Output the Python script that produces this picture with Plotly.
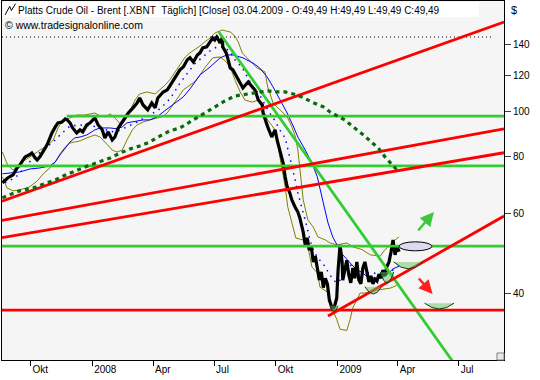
import numpy as np
import pandas as pd
import plotly.graph_objects as go

# ---------------- data ----------------
price_dates = [
    "2007-08-20", "2007-08-24", "2007-08-28", "2007-09-05", "2007-09-11",
    "2007-09-15", "2007-09-23", "2007-09-29", "2007-10-03", "2007-10-08",
    "2007-10-11", "2007-10-15", "2007-10-20", "2007-10-24", "2007-10-27",
    "2007-11-02", "2007-11-07", "2007-11-11", "2007-11-17", "2007-11-22",
    "2007-11-25", "2007-11-29", "2007-12-03", "2007-12-09", "2007-12-14",
    "2007-12-18", "2007-12-24", "2007-12-29", "2008-01-05", "2008-01-10",
    "2008-01-16", "2008-01-20", "2008-01-25", "2008-01-31", "2008-02-04",
    "2008-02-09", "2008-02-15", "2008-02-19", "2008-02-24", "2008-03-02",
    "2008-03-08", "2008-03-12", "2008-03-17", "2008-03-24", "2008-03-30",
    "2008-04-04", "2008-04-08", "2008-04-16", "2008-04-22", "2008-04-26",
    "2008-05-02", "2008-05-07", "2008-05-11", "2008-05-16", "2008-05-22",
    "2008-05-26", "2008-05-31", "2008-06-06", "2008-06-10", "2008-06-14",
    "2008-06-20", "2008-06-25", "2008-06-29", "2008-07-02", "2008-07-05",
    "2008-07-10", "2008-07-13", "2008-07-14", "2008-07-19", "2008-07-22",
    "2008-07-25", "2008-07-29", "2008-08-04", "2008-08-09", "2008-08-13",
    "2008-08-18", "2008-08-21", "2008-08-27", "2008-08-31", "2008-09-05",
    "2008-09-11", "2008-09-12", "2008-09-15", "2008-09-19", "2008-09-25",
    "2008-09-30", "2008-10-03", "2008-10-07", "2008-10-12", "2008-10-15",
    "2008-10-18", "2008-10-22", "2008-10-25", "2008-10-30", "2008-11-03",
    "2008-11-06", "2008-11-11", "2008-11-14", "2008-11-17", "2008-11-20",
    "2008-11-23", "2008-11-26", "2008-11-29", "2008-12-02", "2008-12-05",
    "2008-12-08", "2008-12-11", "2008-12-14", "2008-12-17", "2008-12-20",
    "2008-12-23", "2008-12-25", "2008-12-28", "2008-12-31", "2009-01-02",
    "2009-01-05", "2009-01-08", "2009-01-09", "2009-01-12", "2009-01-15",
    "2009-01-18", "2009-01-21", "2009-01-24", "2009-01-27", "2009-01-30",
    "2009-02-02", "2009-02-05", "2009-02-08", "2009-02-11", "2009-02-14",
    "2009-02-17", "2009-02-20", "2009-02-23", "2009-02-26", "2009-03-01",
    "2009-03-04", "2009-03-07", "2009-03-10", "2009-03-13", "2009-03-16",
    "2009-03-19", "2009-03-22", "2009-03-25", "2009-03-28", "2009-03-31",
    "2009-04-03",
]
price_close = [
    70.0, 71.0, 71.7, 72.8, 75.4,
    76.5, 79.7, 80.5, 81.3, 79.3,
    78.5, 79.7, 81.7, 83.8, 85.5,
    89.9, 92.7, 94.6, 95.0, 96.5,
    96.0, 94.6, 92.2, 89.9, 91.3,
    90.4, 93.6, 94.6, 97.0, 93.6,
    91.4, 87.7, 90.4, 86.8, 88.1,
    92.2, 95.0, 97.0, 99.4, 102.0,
    104.5, 107.2, 103.5, 101.0, 104.5,
    102.0, 107.2, 110.5, 111.6, 113.9,
    117.5, 121.0, 123.5, 125.3, 129.9,
    131.2, 128.5, 133.1, 134.5, 137.9,
    138.6, 142.1, 145.0, 143.5, 145.7,
    141.4, 145.0, 138.6, 134.5, 129.9,
    124.7, 123.5, 119.2, 115.6, 112.7,
    115.0, 116.2, 113.3, 111.6, 106.1,
    103.5, 99.4, 96.0, 92.7, 88.1,
    91.3, 86.8, 82.6, 77.3, 72.1,
    68.6, 66.5, 64.2, 61.9, 60.4,
    58.6, 54.6, 51.2, 53.0, 49.9,
    50.7, 47.0, 48.4, 45.6, 42.9,
    44.7, 41.3, 43.3, 42.1, 38.8,
    37.3, 36.9, 37.7, 39.2, 45.1,
    51.2, 47.0, 42.9, 45.1, 47.4,
    44.0, 42.3, 45.6, 43.3, 47.0,
    42.9, 42.1, 45.6, 47.0, 44.9,
    42.5, 43.8, 42.1, 43.1, 42.7,
    44.2, 43.3, 45.1, 43.8, 46.0,
    47.0, 49.4, 52.5, 48.7, 50.9,
    49.49,
]

# long moving average (blue, solid)
ma_long_dates = [
    "2007-08-20", "2007-08-31", "2007-09-15", "2007-09-30", "2007-10-15", "2007-10-30", "2007-11-07", "2007-11-14", "2007-11-22", "2007-11-29",
    "2007-12-06", "2007-12-14", "2007-12-24", "2008-01-05", "2008-01-13", "2008-01-28", "2008-02-07", "2008-02-15", "2008-02-22", "2008-03-02",
    "2008-03-17", "2008-03-27", "2008-04-07", "2008-04-16", "2008-04-26", "2008-05-07", "2008-05-16", "2008-05-26", "2008-06-10", "2008-06-25",
    "2008-07-10", "2008-07-20", "2008-07-29", "2008-08-13", "2008-08-28", "2008-09-07", "2008-09-18", "2008-09-27", "2008-10-07", "2008-10-18",
    "2008-10-27", "2008-11-03", "2008-11-14", "2008-11-24", "2008-12-02", "2008-12-06", "2008-12-11", "2008-12-18", "2008-12-25", "2009-01-02",
    "2009-01-09", "2009-01-17", "2009-01-27", "2009-02-07", "2009-02-16", "2009-03-01", "2009-03-10", "2009-03-17", "2009-03-25", "2009-04-03",
]
ma_long = [
    73.2, 73.5, 73.9, 75.0, 75.4, 76.2, 77.7, 80.5, 83.4, 85.9,
    87.7, 88.1, 89.0, 91.3, 92.2, 92.2, 91.8, 92.7, 94.6, 95.0,
    96.0, 96.0, 97.5, 99.9, 102.5, 105.0, 107.8, 112.2, 120.4, 125.3,
    131.2, 133.1, 133.1, 131.2, 127.8, 124.7, 119.2, 113.3, 106.7, 99.4,
    93.1, 88.1, 82.5, 77.3, 72.1, 67.5, 63.2, 57.2, 53.3, 50.7,
    48.7, 47.3, 45.6, 44.5, 43.5, 43.3, 43.5, 44.2, 45.4, 46.0,
]

# short moving average (blue, dotted)
ma_short_dates = [
    "2007-08-24", "2007-09-08", "2007-09-15", "2007-09-26", "2007-10-05", "2007-10-20", "2007-10-30", "2007-11-07", "2007-11-14", "2007-11-22",
    "2007-11-29", "2007-12-14", "2007-12-29", "2008-01-13", "2008-01-28", "2008-02-09", "2008-02-22", "2008-03-08", "2008-03-23", "2008-04-07",
    "2008-04-22", "2008-05-01", "2008-05-11", "2008-05-22", "2008-06-02", "2008-06-14", "2008-06-25", "2008-07-05", "2008-07-16", "2008-07-25",
    "2008-08-01", "2008-08-12", "2008-08-21", "2008-08-28", "2008-09-07", "2008-09-19", "2008-09-30", "2008-10-07", "2008-10-15", "2008-10-22",
    "2008-10-30", "2008-11-03", "2008-11-09", "2008-11-17", "2008-11-21", "2008-11-26", "2008-12-03", "2008-12-11", "2008-12-18", "2008-12-25",
    "2008-12-31", "2009-01-05", "2009-01-12", "2009-01-20", "2009-01-30", "2009-02-11", "2009-02-23", "2009-03-08", "2009-03-21", "2009-03-31",
]
ma_short = [
    70.0, 71.7, 73.5, 76.5, 79.3, 82.5, 84.7, 86.8, 89.0, 91.3,
    93.1, 93.6, 93.1, 92.7, 90.4, 90.9, 92.7, 95.0, 97.9, 100.4,
    105.0, 109.4, 115.6, 121.0, 127.2, 131.8, 135.9, 138.6, 138.6, 135.1,
    129.9, 124.7, 118.6, 113.3, 108.9, 101.0, 95.5, 91.3, 87.7, 79.7,
    71.0, 66.5, 61.9, 55.8, 52.5, 49.9, 47.9, 46.5, 44.7, 43.1,
    42.3, 42.9, 45.1, 46.3, 45.1, 44.5, 44.5, 44.0, 44.7, 45.8,
]

# bands (olive)
band_upper_dates = [
    "2007-08-20", "2007-08-28", "2007-09-05", "2007-09-12", "2007-09-23", "2007-10-05", "2007-10-15", "2007-10-26", "2007-11-04", "2007-11-11",
    "2007-11-19", "2007-11-29", "2007-12-09", "2007-12-21", "2008-01-05", "2008-01-13", "2008-01-20", "2008-01-28", "2008-02-04", "2008-02-12",
    "2008-02-19", "2008-02-27", "2008-03-05", "2008-03-12", "2008-03-23", "2008-04-04", "2008-04-11", "2008-04-19", "2008-04-26", "2008-05-04",
    "2008-05-11", "2008-05-19", "2008-05-26", "2008-06-02", "2008-06-10", "2008-06-17", "2008-06-25", "2008-07-02", "2008-07-13", "2008-07-25",
    "2008-08-01", "2008-08-06", "2008-08-12", "2008-08-19", "2008-08-27", "2008-09-03", "2008-09-15", "2008-09-19", "2008-09-27", "2008-10-07",
    "2008-10-18", "2008-10-25", "2008-10-30", "2008-11-03", "2008-11-06", "2008-11-11", "2008-11-18", "2008-11-26", "2008-12-03", "2008-12-14",
    "2008-12-21", "2008-12-31", "2009-01-15", "2009-01-24", "2009-02-07", "2009-02-19", "2009-03-06", "2009-03-13", "2009-03-21", "2009-03-28",
    "2009-04-03",
]
band_upper = [
    81.7, 76.5, 74.6, 76.2, 78.5, 80.5, 82.5, 84.2, 86.8, 92.2,
    96.0, 97.0, 98.4, 98.4, 99.4, 97.9, 97.5, 98.9, 97.0, 94.1,
    96.0, 101.0, 106.1, 109.4, 110.5, 109.4, 111.6, 114.4, 117.5, 122.2,
    127.2, 131.8, 134.5, 136.6, 139.3, 142.1, 145.0, 148.6, 150.9, 149.4,
    146.4, 142.1, 134.5, 131.2, 127.8, 124.7, 122.2, 113.3, 104.5, 100.9,
    97.5, 92.7, 88.5, 82.5, 74.6, 64.2, 58.0, 56.0, 53.3, 52.5,
    51.7, 51.2, 51.7, 50.7, 50.0, 48.7, 48.4, 50.0, 51.2, 52.5,
    53.3,
]
band_lower_dates = [
    "2007-08-20", "2007-08-27", "2007-09-05", "2007-09-15", "2007-09-30", "2007-10-11", "2007-10-20", "2007-10-30", "2007-11-07", "2007-11-14",
    "2007-11-22", "2007-11-29", "2007-12-06", "2007-12-14", "2007-12-24", "2008-01-05", "2008-01-13", "2008-01-23", "2008-01-31", "2008-02-07",
    "2008-02-15", "2008-02-22", "2008-03-01", "2008-03-08", "2008-03-17", "2008-03-27", "2008-04-07", "2008-04-14", "2008-04-22", "2008-04-29",
    "2008-05-07", "2008-05-16", "2008-05-26", "2008-06-02", "2008-06-10", "2008-06-17", "2008-06-29", "2008-07-10", "2008-07-19", "2008-07-25",
    "2008-08-01", "2008-08-09", "2008-08-16", "2008-08-27", "2008-09-05", "2008-09-12", "2008-09-19", "2008-09-30", "2008-10-07", "2008-10-15",
    "2008-10-19", "2008-10-27", "2008-10-31", "2008-11-11", "2008-11-18", "2008-11-24", "2008-12-02", "2008-12-06", "2008-12-17", "2008-12-21",
    "2008-12-25", "2008-12-31", "2009-01-05", "2009-01-15", "2009-01-20", "2009-01-24", "2009-01-30", "2009-02-04", "2009-02-11", "2009-02-22",
    "2009-03-01", "2009-03-10", "2009-03-21", "2009-03-28", "2009-04-03",
]
band_lower = [
    72.1, 68.2, 67.2, 67.5, 68.6, 70.6, 73.2, 75.4, 77.7, 80.9,
    83.8, 85.5, 85.9, 86.4, 87.7, 89.0, 88.1, 84.7, 82.5, 81.7,
    82.5, 86.8, 91.3, 93.6, 95.0, 96.0, 97.0, 97.5, 99.4, 103.0,
    107.2, 111.6, 114.4, 116.2, 120.4, 124.7, 131.2, 131.8, 128.5, 125.3,
    117.5, 110.5, 106.1, 105.0, 106.1, 101.0, 96.0, 91.3, 79.7, 68.6,
    61.9, 56.0, 53.0, 52.5, 50.7, 45.8, 44.5, 41.4, 40.4, 38.8,
    36.9, 35.2, 33.5, 33.3, 35.2, 37.3, 38.8, 40.2, 40.2, 40.4,
    40.8, 41.0, 41.2, 41.6, 42.3,
]

# dark green dotted arc drawing
arc_dates = [
    "2007-08-20", "2007-08-31", "2007-09-15", "2007-10-05", "2007-10-23", "2007-11-07", "2007-11-19", "2007-11-29", "2007-12-14", "2007-12-26",
    "2008-01-13", "2008-01-28", "2008-02-12", "2008-02-27", "2008-03-12", "2008-03-27", "2008-04-11", "2008-04-26", "2008-05-11", "2008-05-26",
    "2008-06-07", "2008-06-17", "2008-06-28", "2008-07-17", "2008-08-01", "2008-08-19", "2008-09-03", "2008-09-19", "2008-10-03", "2008-10-15",
    "2008-10-27", "2008-11-09", "2008-11-24", "2008-12-11", "2008-12-21", "2009-01-02", "2009-01-12", "2009-01-23", "2009-02-01", "2009-02-11",
    "2009-02-22", "2009-03-03", "2009-03-13", "2009-03-22", "2009-03-31",
]
arc_prices = [
    64.9, 65.8, 67.2, 68.2, 69.6, 71.0, 72.4, 73.5, 75.0, 76.2,
    77.7, 79.3, 81.3, 83.0, 84.2, 85.9, 88.5, 90.9, 92.2, 95.0,
    97.5, 99.4, 101.5, 105.6, 108.3, 109.4, 110.0, 111.1, 110.5, 110.5,
    109.4, 107.8, 105.0, 102.5, 99.9, 97.9, 96.0, 93.1, 90.9, 88.5,
    85.5, 83.4, 79.7, 77.3, 74.6,
]

X_START = "2007-08-19 12:00"
X_END = "2009-09-06 14:00"

# trend lines: (start date, start price, end date, end price)
red_lines = [
    (X_START, 63.8, X_END, 157.1),
    (X_START, 57.9, X_END, 91.8),
    (X_START, 53.1, X_END, 81.4),
    ("2008-12-18", 35.8, X_END, 59.2),
    (X_START, 36.9, X_END, 36.9),
]
green_lines = [
    ("2007-11-24", 97.9, X_END, 97.9),
    (X_START, 76.2, X_END, 76.2),
    (X_START, 50.9, X_END, 50.9),
    ("2008-07-08", 149.4, "2009-07-01", 27.3),
]
high_line = (X_START, 145.7, "2009-08-21", 145.7)

# bowls (light green half ellipses)
bowl_left = ["2008-12-21", "2009-02-11", "2009-03-06", "2009-03-26", "2009-05-11"]
bowl_right = ["2009-01-02", "2009-03-08", "2009-03-26", "2009-05-08", "2009-06-24"]
bowl_top = [37.7, 41.5, 44.7, 47.0, 38.2]
bowl_bottom = [36.6, 40.0, 42.3, 45.4, 37.1]

# target ellipse
ellipse_dates = ["2009-04-03", "2009-05-22"]
ellipse_prices = [49.7, 52.0]

# arrows: head date, head price
arrow_up = ("2009-05-25", 60.4)
arrow_down = ("2009-05-23", 40.0)

x_tick_dates = ["2007-10-01", "2008-01-01", "2008-04-01", "2008-07-01",
                "2008-10-01", "2009-01-01", "2009-04-01", "2009-07-01"]
x_tick_text = ["Okt", "2008", "Apr", "Jul", "Okt", "2009", "Apr", "Jul"]
y_tick_vals = [40, 60, 80, 100, 120, 140]

assert len(price_dates) == len(price_close)
assert len(ma_long_dates) == len(ma_long)
assert len(ma_short_dates) == len(ma_short)
assert len(band_upper_dates) == len(band_upper)
assert len(band_lower_dates) == len(band_lower)
assert len(arc_dates) == len(arc_prices)

# ---------------- figure ----------------
FONT = "Liberation Sans, Arial, sans-serif"
fig = go.Figure()

def line_trace(x, y, color, width, dash="solid"):
    fig.add_trace(go.Scatter(x=x, y=y, mode="lines", hoverinfo="skip",
                             line=dict(color=color, width=width, dash=dash)))

line_trace(band_upper_dates, band_upper, "#808000", 1)
line_trace(band_lower_dates, band_lower, "#808000", 1)
line_trace(ma_long_dates, ma_long, "#0000ff", 1)
line_trace(ma_short_dates, ma_short, "#0000ff", 1.5, "1.5px,5px")
line_trace(price_dates, price_close, "#000000", 3.2)

line_trace([high_line[0], high_line[2]], [high_line[1], high_line[3]], "#000000", 1, "1px,3px")
for (d0, p0, d1, p1) in green_lines:
    line_trace([d0, d1], [p0, p1], "#33cc33", 2.8)
for (d0, p0, d1, p1) in red_lines:
    line_trace([d0, d1], [p0, p1], "#ff0000", 2.8)
line_trace(arc_dates, arc_prices, "#0b6b0b", 3.2, "4px,4px")

# bowls
for xl, xr, pt, pb in zip(bowl_left, bowl_right, bowl_top, bowl_bottom):
    tl, tr = pd.Timestamp(xl), pd.Timestamp(xr)
    xm = (tl + (tr - tl) / 2).strftime("%Y-%m-%d_%H:%M:%S")
    ctrl = pb * pb / pt
    fig.add_shape(type="path", xref="x", yref="y", layer="above",
                  path=f"M {xl},{pt} Q {xm},{ctrl} {xr},{pt}",
                  fillcolor="rgba(95,200,95,0.5)",
                  line=dict(color="#1e3a1e", width=1))

fig.add_shape(type="circle", xref="x", yref="y", layer="above",
              x0=ellipse_dates[0], x1=ellipse_dates[1],
              y0=ellipse_prices[0], y1=ellipse_prices[1],
              fillcolor="#dcdcf0", line=dict(color="#000000", width=1))

# arrows
fig.add_annotation(x=arrow_up[0], y=np.log10(arrow_up[1]), xref="x", yref="y",
                   ax=-17, ay=20, text="", showarrow=True, arrowhead=2,
                   arrowsize=1.1, arrowwidth=2.5, arrowcolor="#3cc83c", standoff=0)
fig.add_annotation(x=arrow_down[0], y=np.log10(arrow_down[1]), xref="x", yref="y",
                   ax=-15, ay=-17, text="", showarrow=True, arrowhead=2,
                   arrowsize=1.1, arrowwidth=2.5, arrowcolor="#ff2020", standoff=0)

# title box + icon
fig.add_shape(type="rect", xref="paper", yref="paper", layer="above",
              x0=0.002, x1=0.950, y0=0.9554, y1=0.9972,
              fillcolor="#ffffff", line=dict(width=0))
fig.add_shape(type="path", xref="paper", yref="paper", layer="above",
              path="M 0.006,0.961 L 0.0154,0.985 L 0.0187,0.9735 L 0.0269,0.9924",
              line=dict(color="#000000", width=1))
fig.add_annotation(xref="paper", yref="paper", x=0.0279, y=0.9735,
                   xanchor="left", yanchor="middle", showarrow=False,
                   text="Platts Crude Oil - Brent [.XBNT \u00a0Täglich] [Close] 03.04.2009 - O:49,49 H:49,49 L:49,49 C:49,49",
                   font=dict(family=FONT, size=10, color="#000000"))
fig.add_annotation(xref="paper", yref="paper", x=0.002, y=0.933,
                   xanchor="left", yanchor="middle", showarrow=False,
                   text="© www.tradesignalonline.com",
                   font=dict(family=FONT, size=10.5, color="#000000"))
fig.add_annotation(xref="paper", yref="paper", x=1.010, y=0.975,
                   xanchor="left", yanchor="middle", showarrow=False,
                   text="$", font=dict(family=FONT, size=11, color="#000000"))
# corner grip
fig.add_shape(type="rect", xref="paper", yref="paper", layer="above",
              x0=0.986, x1=1.0, y0=0.0, y1=0.0195,
              fillcolor="#e8e8e8", line=dict(color="#808080", width=1))

fig.update_layout(
    width=540, height=380,
    margin=dict(l=2, r=36, t=1, b=20),
    paper_bgcolor="#ffffff", plot_bgcolor="#f5f5f5",
    showlegend=False, hovermode=False,
    font=dict(family=FONT, size=10, color="#000000"),
    xaxis=dict(type="date", range=[X_START, X_END], showgrid=False, zeroline=False,
               tickvals=x_tick_dates, ticktext=x_tick_text,
               ticks="outside", ticklen=5, tickwidth=1, tickcolor="#000000",
               ticklabelposition="outside right", ticklabelshift=1,
               showline=True, mirror=True, linecolor="#000000", linewidth=1,
               tickfont=dict(family=FONT, size=10, color="#000000")),
    yaxis=dict(type="log", side="right",
               range=[np.log10(28.7), np.log10(174.6)],
               showgrid=False, zeroline=False,
               tickvals=y_tick_vals, ticktext=[str(v) for v in y_tick_vals],
               ticks="outside", ticklen=6, tickwidth=1, tickcolor="#404040",
               showline=True, mirror=True, linecolor="#000000", linewidth=1,
               tickfont=dict(family=FONT, size=10, color="#000000")),
)

fig.write_html("out.html",
               config={"displayModeBar": False, "staticPlot": True},
               post_script="document.body.style.margin='0px';document.body.style.overflow='hidden';")
